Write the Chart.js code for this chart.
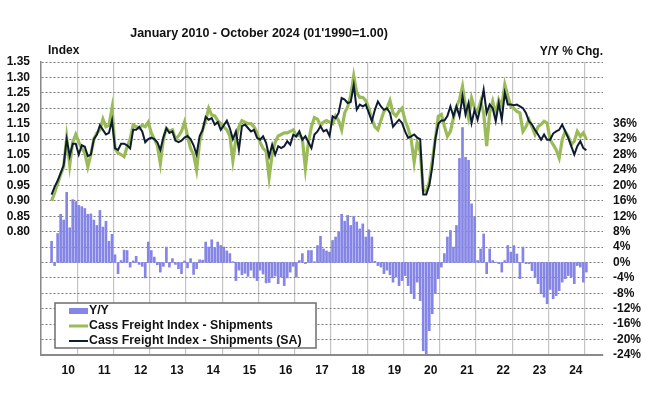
<!DOCTYPE html>
<html>
<head>
<meta charset="utf-8">
<script src="https://cdn.jsdelivr.net/npm/chart.js@4.4.1/dist/chart.umd.min.js"></script>
<style>
  html, body { margin: 0; padding: 0; background: #fff; }
  #wrap { width: 650px; height: 400px; position: relative; }
</style>
</head>
<body>
<div id="wrap"><canvas id="chart"></canvas></div>
<script>
// monthly values Jan 2010 .. Oct 2024, one row per year
const shipments = [
  0.900, 0.925, 0.955, 0.985, 1.010, 1.105, 1.015, 1.090, 1.115, 1.090, 1.070, 1.055,
  1.010, 1.050, 1.100, 1.120, 1.130, 1.165, 1.140, 1.145, 1.200, 1.070, 1.055, 1.050,
  1.043, 1.075, 1.100, 1.145, 1.140, 1.135, 1.145, 1.140, 1.155, 1.120, 1.100, 1.080,
  1.020, 1.100, 1.135, 1.125, 1.130, 1.100, 1.110, 1.125, 1.155, 1.110, 1.070, 1.050,
  1.000, 1.090, 1.130, 1.160, 1.200, 1.178, 1.175, 1.160, 1.150, 1.140, 1.130, 1.110,
  1.030, 1.100, 1.140, 1.160, 1.155, 1.150, 1.150, 1.140, 1.120, 1.090, 1.070, 1.060,
  0.975, 1.050, 1.090, 1.110, 1.115, 1.120, 1.120, 1.125, 1.130, 1.110, 1.115, 1.100,
  1.005, 1.090, 1.140, 1.170, 1.165, 1.145, 1.155, 1.160, 1.155, 1.150, 1.175, 1.160,
  1.130, 1.185, 1.205, 1.240, 1.305, 1.250, 1.235, 1.235, 1.225, 1.200, 1.165, 1.140,
  1.130, 1.160, 1.190, 1.200, 1.225, 1.185, 1.175, 1.190, 1.200, 1.160, 1.135, 1.100,
  1.025, 1.090, 1.060, 0.935, 0.930, 0.960, 1.030, 1.100, 1.174, 1.180, 1.142, 1.109,
  1.125, 1.168, 1.206, 1.228, 1.271, 1.206, 1.168, 1.233, 1.200, 1.190, 1.222, 1.185,
  1.077, 1.185, 1.222, 1.180, 1.228, 1.206, 1.277, 1.239, 1.206, 1.200, 1.190, 1.185,
  1.125, 1.140, 1.163, 1.140, 1.115, 1.140, 1.147, 1.158, 1.152, 1.098, 1.082, 1.066,
  1.039, 1.098, 1.125, 1.109, 1.082, 1.093, 1.125, 1.109, 1.120, 1.100
];

const shipmentsSA = [
  0.920, 0.945, 0.965, 0.990, 1.015, 1.100, 1.045, 1.085, 1.085, 1.050, 1.080, 1.075,
  1.045, 1.050, 1.100, 1.115, 1.145, 1.130, 1.115, 1.120, 1.160, 1.070, 1.065, 1.085,
  1.085, 1.080, 1.070, 1.130, 1.130, 1.140, 1.125, 1.090, 1.100, 1.105, 1.100, 1.090,
  1.065, 1.105, 1.135, 1.120, 1.125, 1.095, 1.090, 1.095, 1.105, 1.110, 1.100, 1.080,
  1.050, 1.110, 1.130, 1.172, 1.163, 1.168, 1.147, 1.155, 1.130, 1.145, 1.160, 1.135,
  1.100, 1.125, 1.066, 1.142, 1.147, 1.136, 1.125, 1.130, 1.104, 1.098, 1.109, 1.088,
  1.044, 1.082, 1.050, 1.077, 1.071, 1.077, 1.093, 1.082, 1.114, 1.109, 1.125, 1.098,
  1.109, 1.090, 1.071, 1.115, 1.125, 1.142, 1.125, 1.130, 1.110, 1.174, 1.168, 1.185,
  1.233, 1.228, 1.217, 1.220, 1.275, 1.196, 1.212, 1.206, 1.212, 1.185, 1.158, 1.195,
  1.222, 1.206, 1.195, 1.200, 1.185, 1.140, 1.152, 1.163, 1.152, 1.125, 1.104, 1.109,
  1.115, 1.105, 1.100, 0.920, 0.920, 0.950, 1.010, 1.100, 1.150, 1.160, 1.160, 1.175,
  1.206, 1.174, 1.206, 1.174, 1.239, 1.180, 1.217, 1.152, 1.195, 1.163, 1.206, 1.260,
  1.185, 1.212, 1.200, 1.158, 1.217, 1.163, 1.250, 1.212, 1.212, 1.210, 1.212, 1.206,
  1.200, 1.185, 1.158, 1.147, 1.130, 1.115, 1.098, 1.115, 1.098, 1.098, 1.118, 1.125,
  1.130, 1.147, 1.125, 1.104, 1.077, 1.050, 1.077, 1.093, 1.071, 1.064
];

// Y/Y % change
const yoy = [
  5.5, -0.8, 7.5, 12.5, 11.0, 18.2, 9.0, 16.3, 15.8, 14.8, 14.5, 14.0,
  12.5, 12.6, 11.0, 9.6, 13.5, 9.2, 10.7, 5.5, 7.3, 2.0, -2.9, 0.5,
  3.2, 3.1, -1.2, 0.4, 1.6, -0.5, -1.0, -4.0, 5.3, 3.1, 1.4, -0.6,
  -2.5, -1.0, 4.0, -1.2, 1.0, -0.5, -1.6, -2.9, 0.4, -1.4, 1.0, -3.1,
  -1.6, 0.7, 0.6, 5.3, 4.0, 5.9, 3.8, 5.3, 4.4, 4.0, 3.0, 2.3,
  0.2, -4.7, -2.0, -3.2, -2.8, -3.6, -2.0, -4.0, -4.7, -2.0, -3.0, -5.3,
  -5.2, -4.0, -3.5, -5.5, -3.8, -6.0, -4.0, -2.5, -1.0, -3.8, 0.5, 2.3,
  -0.3, 3.1, 3.1, 0.2, 4.4, 6.8, 3.5, 3.0, 2.7, 5.7, 6.6, 7.9,
  12.5, 10.7, 12.2, 9.6, 12.0, 10.5, 8.7, 10.0, 6.6, 8.5, 6.6, 0.3,
  -0.8, -1.2, -2.9, -2.0, -3.2, -5.1, -3.8, -6.0, -4.7, -3.4, -6.0, -8.1,
  -9.4, -5.1, -9.9, -22.9, -23.7, -17.7, -13.3, -8.1, -4.2, -1.2, 2.3, 6.6,
  8.3, 4.0, 9.6, 27.0, 35.0, 27.3, 26.5, 15.2, 11.8, 0.5, 3.5, 7.4,
  -2.9, 3.5, 0.5, 0.1, -0.3, -2.5, 0.5, 4.4, 2.7, 4.4, 2.2, -4.2,
  4.0, -0.3, -0.3, -2.1, -3.8, -5.5, -8.1, -9.0, -10.7, -7.0, -9.4, -8.6,
  -7.3, -5.1, -4.2, -3.4, -3.8, -5.5, -0.8, -1.2, -5.1, -2.5
];

const yearLabels = ['10', '11', '12', '13', '14', '15', '16', '17', '18', '19', '20', '21', '22', '23', '24'];
const seriesNames = ['Y/Y', 'Cass Freight Index - Shipments', 'Cass Freight Index - Shipments (SA)'];
const title = "January 2010 - October 2024 (01'1990=1.00)";

const FONT = "'Liberation Sans', Arial, sans-serif";
const GREEN = '#9bbb59';
const NAVY = '#0e1c33';
const BAR = '#8585e6';

// month i sits in the middle of its slot on a 0..180 month axis
const toPoints = arr => arr.map((v, i) => ({ x: i + 0.5, y: v }));

const extras = {
  id: 'extras',
  afterDraw(chart) {
    const { ctx } = chart;
    ctx.save();
    ctx.fillStyle = '#111';
    ctx.font = 'bold 12.5px ' + FONT;
    ctx.textBaseline = 'middle';
    ctx.textAlign = 'center';
    ctx.fillText(title, 259, 34);
    ctx.font = 'bold 12px ' + FONT;
    ctx.textAlign = 'left';
    ctx.fillText('Index', 48, 51);
    ctx.textAlign = 'right';
    ctx.fillText('Y/Y % Chg.', 603, 52);

    // legend box
    ctx.fillStyle = '#fff';
    ctx.fillRect(55, 303, 261, 45);
    ctx.strokeStyle = '#6e6e6e';
    ctx.lineWidth = 1.5;
    ctx.strokeRect(55, 303, 261, 45);

    ctx.fillStyle = BAR;
    ctx.fillRect(69, 308, 19, 6);
    ctx.lineWidth = 3;
    ctx.strokeStyle = GREEN;
    ctx.beginPath(); ctx.moveTo(69, 326); ctx.lineTo(88, 326); ctx.stroke();
    ctx.lineWidth = 2;
    ctx.strokeStyle = NAVY;
    ctx.beginPath(); ctx.moveTo(69, 341); ctx.lineTo(88, 341); ctx.stroke();

    ctx.fillStyle = '#111';
    ctx.textAlign = 'left';
    ctx.font = 'bold 12.3px ' + FONT;
    ctx.fillText(seriesNames[0], 89, 311);
    ctx.fillText(seriesNames[1], 89, 326);
    ctx.fillText(seriesNames[2], 89, 341);
    ctx.restore();
  }
};

const ctx = document.getElementById('chart').getContext('2d');

new Chart(ctx, {
  type: 'bar',
  data: {
    datasets: [
      {
        type: 'line',
        label: seriesNames[2],
        data: toPoints(shipmentsSA),
        yAxisID: 'yL',
        borderColor: NAVY,
        borderWidth: 2,
        pointRadius: 0,
        tension: 0,
        order: 1
      },
      {
        type: 'line',
        label: seriesNames[1],
        data: toPoints(shipments),
        yAxisID: 'yL',
        borderColor: GREEN,
        borderWidth: 3.2,
        pointRadius: 0,
        tension: 0,
        order: 2
      },
      {
        label: seriesNames[0],
        data: toPoints(yoy),
        yAxisID: 'yR',
        backgroundColor: BAR,
        barThickness: 2,
        order: 3
      }
    ]
  },
  options: {
    responsive: true,
    maintainAspectRatio: false,
    animation: false,
    layout: { padding: { top: 62, left: 0, right: 0, bottom: 0 } },
    plugins: { legend: { display: false }, tooltip: { enabled: false } },
    scales: {
      x: {
        type: 'linear',
        min: 0,
        max: 180,
        afterBuildTicks: s => {
          const t = [];
          for (let v = 0; v <= 180; v += 6) t.push({ value: v });
          s.ticks = t;
        },
        afterFit: s => { s.height = 45; },
        ticks: {
          autoSkip: false,
          maxRotation: 0,
          padding: 8,
          color: '#111',
          font: { family: FONT, size: 12, weight: 'bold' },
          callback: v => (v % 12 === 6 ? yearLabels[(v - 6) / 12] : '')
        },
        grid: {
          drawTicks: false,
          lineWidth: 1.2,
          color: c => (c.tick && c.tick.value % 12 === 0 ? '#c4c4c4' : 'rgba(0,0,0,0)')
        },
        border: { display: true, color: '#8a8a8a', width: 2 }
      },
      yL: {
        position: 'left',
        min: 0.40,
        max: 1.35,
        afterFit: s => { s.width = 41; },
        ticks: {
          stepSize: 0.05,
          autoSkip: false,
          padding: 11,
          color: '#111',
          font: { family: FONT, size: 12, weight: 'bold' },
          callback: v => (v > 0.79 ? v.toFixed(2) : '')
        },
        grid: { drawTicks: false, color: '#7a7a7a', lineWidth: 1 },
        border: { display: true, color: '#8a8a8a', width: 1.5, dash: [2, 2] }
      },
      yR: {
        position: 'right',
        min: -24,
        max: 52,
        afterFit: s => { s.width = 47; },
        ticks: {
          stepSize: 4,
          autoSkip: false,
          padding: 10,
          color: '#111',
          font: { family: FONT, size: 12, weight: 'bold' },
          callback: v => (v <= 36 ? v + '%' : '')
        },
        grid: { display: false, drawTicks: false },
        border: { display: false }
      }
    }
  },
  plugins: [extras]
});
</script>
</body>
</html>
